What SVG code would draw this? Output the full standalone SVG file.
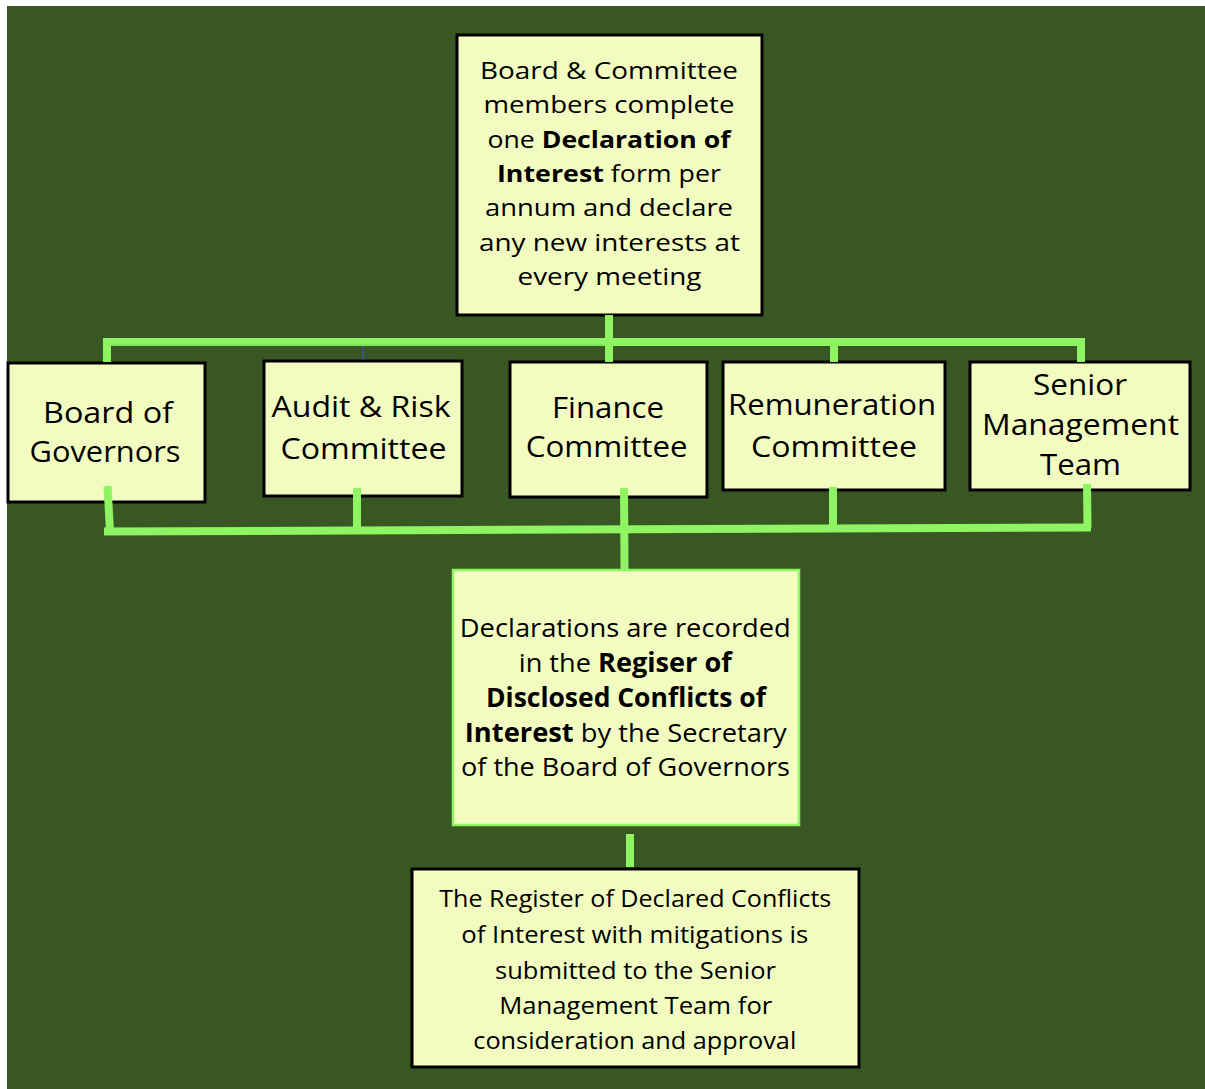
<svg xmlns="http://www.w3.org/2000/svg" width="1205" height="1089" viewBox="0 0 1205 1089">
<style>
.box{fill:#f2fcc0;stroke:#000;stroke-width:3}
.gbox{fill:#f2fcc0;stroke:#8ef462;stroke-width:2.5}
.t{font-family:"Open Sans","Liberation Sans",sans-serif;fill:#000;text-anchor:middle}
.s{font-size:24px}
.m{font-size:29px}
.c{font-size:26px}
.b{font-weight:bold}
.ln{stroke:#8ef462;stroke-width:8;fill:none;stroke-linecap:butt}
</style>
<rect x="0" y="0" width="1205" height="1089" fill="#ffffff"/>
<rect x="7" y="6" width="1198" height="1083" fill="#385723"/>

<g id="node-top">
<rect class="box" x="457" y="35" width="305" height="280"/>
<text class="t s" x="609" y="79" textLength="258" lengthAdjust="spacingAndGlyphs">Board &amp; Committee</text>
<text class="t s" x="609" y="113.3" textLength="251" lengthAdjust="spacingAndGlyphs">members complete</text>
<text class="t s" x="609" y="147.6" textLength="243" lengthAdjust="spacingAndGlyphs">one <tspan class="b">Declaration of</tspan></text>
<text class="t s" x="609" y="181.9" textLength="224" lengthAdjust="spacingAndGlyphs"><tspan class="b">Interest</tspan> form per</text>
<text class="t s" x="609" y="216.2" textLength="248" lengthAdjust="spacingAndGlyphs">annum and declare</text>
<text class="t s" x="609.5" y="250.5" textLength="261" lengthAdjust="spacingAndGlyphs">any new interests at</text>
<text class="t s" x="609.5" y="284.8" textLength="184" lengthAdjust="spacingAndGlyphs">every meeting</text>
</g>

<g id="node-board">
<rect class="box" x="8" y="363" width="197" height="139"/>
<text class="t m" x="108" y="423" textLength="130" lengthAdjust="spacingAndGlyphs">Board of</text>
<text class="t m" x="105" y="462" textLength="151" lengthAdjust="spacingAndGlyphs">Governors</text>
</g>

<g id="node-audit">
<rect class="box" x="264" y="361" width="198" height="135"/>
<text class="t m" x="361" y="417" textLength="179" lengthAdjust="spacingAndGlyphs">Audit &amp; Risk</text>
<text class="t m" x="363.5" y="459" textLength="166" lengthAdjust="spacingAndGlyphs">Committee</text>
</g>

<g id="node-finance">
<rect class="box" x="510" y="362" width="197" height="135"/>
<text class="t m" x="608" y="417.5" textLength="112" lengthAdjust="spacingAndGlyphs">Finance</text>
<text class="t m" x="606.7" y="457" textLength="162" lengthAdjust="spacingAndGlyphs">Committee</text>
</g>

<g id="node-remuneration">
<rect class="box" x="723" y="362" width="222" height="128"/>
<text class="t m" x="832" y="415" textLength="208" lengthAdjust="spacingAndGlyphs">Remuneration</text>
<text class="t m" x="834" y="457" textLength="166" lengthAdjust="spacingAndGlyphs">Committee</text>
</g>

<g id="node-smt">
<rect class="box" x="970" y="362" width="220" height="128"/>
<text class="t m" x="1080" y="395" textLength="94" lengthAdjust="spacingAndGlyphs">Senior</text>
<text class="t m" x="1080.5" y="435" textLength="197" lengthAdjust="spacingAndGlyphs">Management</text>
<text class="t m" x="1080.5" y="475" textLength="81" lengthAdjust="spacingAndGlyphs">Team</text>
</g>

<g id="node-register">
<rect class="gbox" x="453" y="570" width="346" height="255"/>
<text class="t c" x="625.3" y="637" textLength="331" lengthAdjust="spacingAndGlyphs">Declarations are recorded</text>
<text class="t c" x="625.3" y="672" textLength="213" lengthAdjust="spacingAndGlyphs">in the <tspan class="b">Regiser of</tspan></text>
<text class="t c b" x="626" y="707" textLength="280" lengthAdjust="spacingAndGlyphs">Disclosed Conflicts of</text>
<text class="t c" x="625.8" y="741.5" textLength="322" lengthAdjust="spacingAndGlyphs"><tspan class="b">Interest</tspan> by the Secretary</text>
<text class="t c" x="625.5" y="776" textLength="329" lengthAdjust="spacingAndGlyphs">of the Board of Governors</text>
</g>

<g id="node-submit">
<rect class="box" x="412" y="869" width="447" height="198"/>
<text class="t s" x="635.3" y="907" textLength="392" lengthAdjust="spacingAndGlyphs">The Register of Declared Conflicts</text>
<text class="t s" x="634.8" y="943" textLength="347" lengthAdjust="spacingAndGlyphs">of Interest with mitigations is</text>
<text class="t s" x="635.5" y="979" textLength="281" lengthAdjust="spacingAndGlyphs">submitted to the Senior</text>
<text class="t s" x="635.8" y="1014" textLength="273" lengthAdjust="spacingAndGlyphs">Management Team for</text>
<text class="t s" x="634.8" y="1049" textLength="323" lengthAdjust="spacingAndGlyphs">consideration and approval</text>
</g>

<g id="connectors">
<path class="ln" d="M107,362 V342 H1081 V362"/>
<line x1="111" y1="345" x2="605" y2="345" stroke="#79d255" stroke-width="1"/>
<line class="ln" x1="609" y1="315" x2="609" y2="362"/>
<line class="ln" x1="834" y1="342" x2="834" y2="362"/>
<line x1="363" y1="346" x2="363" y2="360" stroke="#2f55a8" stroke-width="1.5"/>
<path class="ln" d="M104,531.5 L1091,527.5"/>
<line class="ln" x1="107.5" y1="486" x2="110" y2="531"/>
<line class="ln" x1="357" y1="488" x2="357" y2="531"/>
<line class="ln" x1="624" y1="488" x2="624.5" y2="570"/>
<line class="ln" x1="833" y1="487" x2="833" y2="529"/>
<line class="ln" x1="1087" y1="484" x2="1087.5" y2="528"/>
<line class="ln" x1="630" y1="834" x2="630" y2="867"/>
</g>
</svg>
